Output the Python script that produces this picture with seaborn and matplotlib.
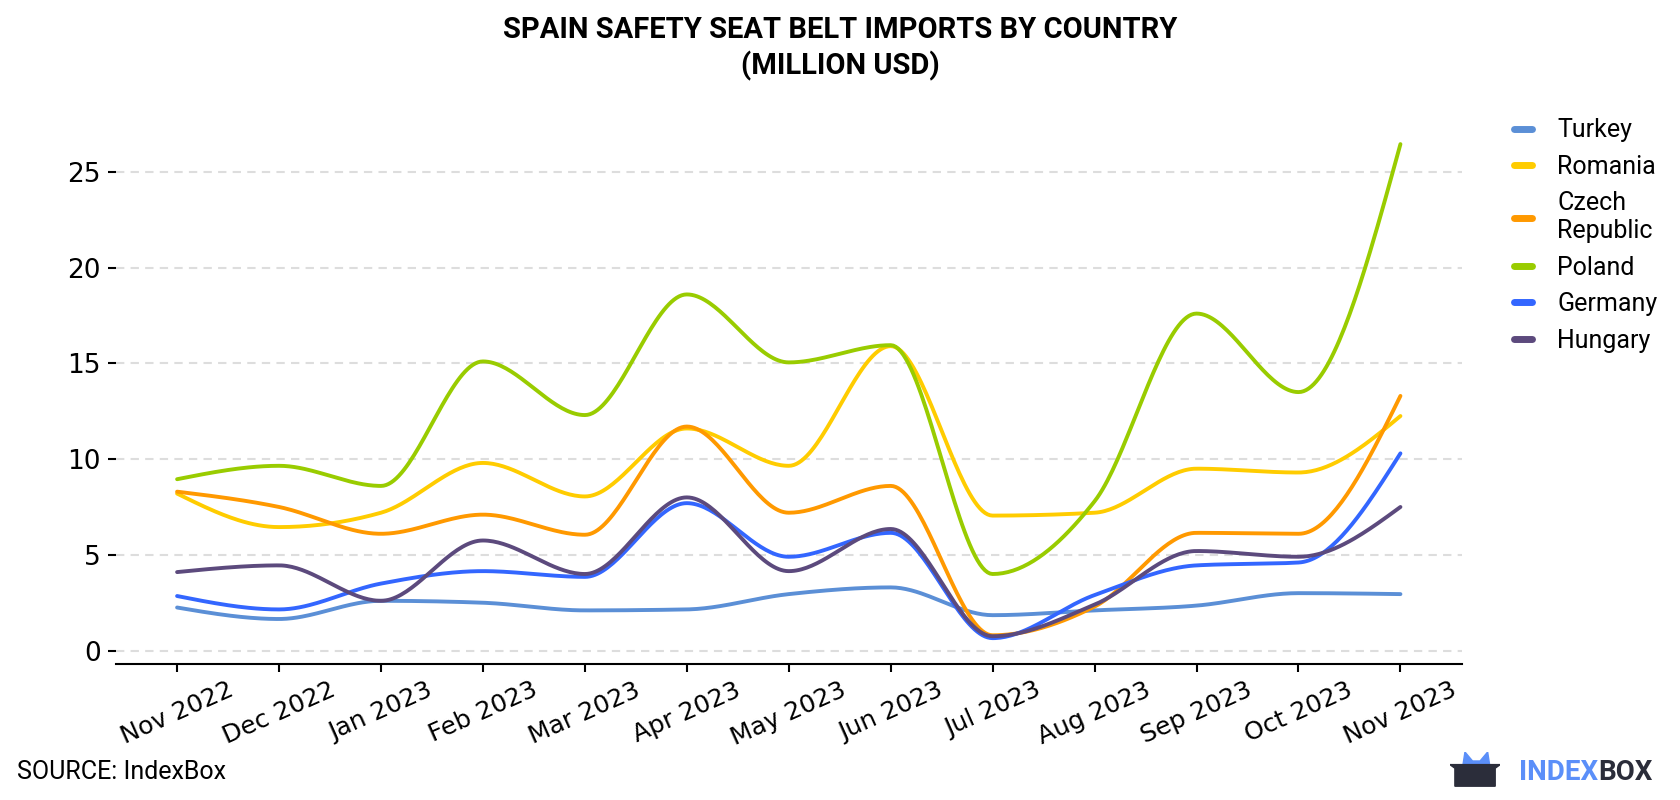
import numpy as np
import pandas as pd
import matplotlib
matplotlib.use("Agg")
import matplotlib.pyplot as plt
import seaborn as sns
from matplotlib.patches import Polygon

# monthly values, million USD
months = ["Nov 2022", "Dec 2022", "Jan 2023", "Feb 2023", "Mar 2023", "Apr 2023",
          "May 2023", "Jun 2023", "Jul 2023", "Aug 2023", "Sep 2023", "Oct 2023", "Nov 2023"]
turkey = [2.25, 1.65, 2.6, 2.5, 2.1, 2.15, 2.95, 3.3, 1.85, 2.1, 2.35, 3.0, 2.95]
romania = [8.2, 6.45, 7.2, 9.8, 8.05, 11.6, 9.65, 15.9, 7.05, 7.2, 9.5, 9.3, 12.25]
czech = [8.3, 7.5, 6.1, 7.1, 6.05, 11.7, 7.2, 8.6, 0.8, 2.3, 6.15, 6.1, 13.3]
poland = [8.95, 9.65, 8.6, 15.1, 12.3, 18.6, 15.05, 15.95, 4.0, 7.8, 17.6, 13.5, 26.45]
germany = [2.85, 2.15, 3.5, 4.15, 3.85, 7.7, 4.9, 6.15, 0.65, 2.9, 4.45, 4.6, 10.3]
hungary = [4.1, 4.45, 2.6, 5.75, 4.0, 8.0, 4.15, 6.35, 0.75, 2.4, 5.2, 4.9, 7.5]

countries = ["Turkey", "Romania", "Czech\nRepublic", "Poland", "Germany", "Hungary"]
series = [turkey, romania, czech, poland, germany, hungary]
colors = ["#5b8fd6", "#ffcc00", "#ff9900", "#99cc00", "#3366ff", "#5c4a7d"]


def monotone_curve(y, n=40):
    # monotone cubic through the monthly points, only for a smooth look
    y = np.asarray(y, dtype=float)
    k = len(y)
    s = np.diff(y)
    t = np.zeros(k)
    for i in range(1, k - 1):
        s0, s1 = s[i - 1], s[i]
        p = (s0 + s1) / 2
        t[i] = (np.sign(s0) + np.sign(s1)) * min(abs(s0), abs(s1), 0.5 * abs(p))
    t[0] = (3 * s[0] - t[1]) / 2
    t[-1] = (3 * s[-1] - t[-2]) / 2
    xs = np.linspace(0, k - 1, (k - 1) * n + 1)
    i = np.clip(np.floor(xs).astype(int), 0, k - 2)
    u = xs - i
    h00 = 2 * u ** 3 - 3 * u ** 2 + 1
    h10 = u ** 3 - 2 * u ** 2 + u
    h01 = -2 * u ** 3 + 3 * u ** 2
    h11 = u ** 3 - u ** 2
    ys = h00 * y[i] + h10 * t[i] + h01 * y[i + 1] + h11 * t[i + 1]
    return xs, ys


rows = []
for name, vals in zip(countries, series):
    xs, ys = monotone_curve(vals)
    rows.append(pd.DataFrame({"x": xs, "value": ys, "country": name}))
df = pd.concat(rows, ignore_index=True)

sns.set_style("white")
plt.rcParams["font.family"] = ["Roboto", "DejaVu Sans"]
plt.rcParams["text.color"] = "black"
plt.rcParams["xtick.color"] = "black"
plt.rcParams["ytick.color"] = "black"

fig = plt.figure(figsize=(16.8, 8), dpi=100)
ax = fig.add_axes([0.069, 0.17, 0.801, 0.675])

sns.lineplot(data=df, x="x", y="value", hue="country", hue_order=countries,
             palette=colors, linewidth=2.8, ax=ax, sort=False)

ax.set_xlim(-0.6, 12.6)
ax.set_ylim(-0.7, 27.5)
ax.set_yticks([0, 5, 10, 15, 20, 25])
ax.set_xticks(range(len(months)))
ax.set_xticklabels(months, rotation=24, ha="center", fontsize=18,
                   fontfamily="DejaVu Sans")
ax.set_yticklabels([str(v) for v in [0, 5, 10, 15, 20, 25]], fontsize=19,
                   fontfamily="DejaVu Sans")
ax.tick_params(axis="both", bottom=True, left=True, length=6, width=1.5,
               color="black", labelcolor="black")
ax.tick_params(axis="x", pad=4)
ax.tick_params(axis="y", pad=5)
ax.yaxis.grid(True, linestyle=(0, (4, 3)), color="#dddddd", linewidth=1.5)
ax.set_axisbelow(True)
ax.set_xlabel("")
ax.set_ylabel("")
for side in ["left", "top", "right"]:
    ax.spines[side].set_visible(False)
ax.spines["bottom"].set_color("black")
ax.spines["bottom"].set_linewidth(1.5)

handles, labels = ax.get_legend_handles_labels()
for h in handles:
    h.set_linewidth(5)
ax.legend(handles, labels, loc="upper left", bbox_to_anchor=(1.022, 1.052),
          frameon=False, fontsize=18, handlelength=0.75, handletextpad=1.0,
          labelspacing=0.5, labelcolor="black")

fig.text(0.5, 0.98, "SPAIN SAFETY SEAT BELT IMPORTS BY COUNTRY\n(MILLION USD)",
         ha="center", va="top", fontsize=21, fontweight="bold", linespacing=1.3,
         color="black")
fig.text(0.01, 0.035, "SOURCE: IndexBox", ha="left", va="center", fontsize=18,
         color="black")

# logo
index_txt = fig.text(0.904, 0.035, "INDEX", ha="left", va="center", fontsize=20,
                     fontweight="bold", color="#5b8ff9")
renderer = fig.canvas.get_renderer()
bb = index_txt.get_window_extent(renderer).transformed(fig.transFigure.inverted())
fig.text(bb.x1, 0.035, "BOX", ha="left", va="center", fontsize=20,
         fontweight="bold", color="#2b2d3a")
logo_ax = fig.add_axes([0.863, 0.015, 0.03, 0.045])
logo_ax.set_xlim(0, 1)
logo_ax.set_ylim(0, 1)
logo_ax.axis("off")
logo_ax.add_patch(Polygon([[0.25, 0.55], [0.3, 1.0], [0.45, 0.75], [0.6, 0.75],
                           [0.75, 1.0], [0.8, 0.55]], closed=True, color="#5b8ff9"))
logo_ax.add_patch(Polygon([[0.0, 0.65], [1.0, 0.65], [0.9, 0.55], [0.9, 0.05],
                           [0.1, 0.05], [0.1, 0.55]], closed=True, color="#2b2d3a"))

fig.savefig("out.png", dpi=100)
